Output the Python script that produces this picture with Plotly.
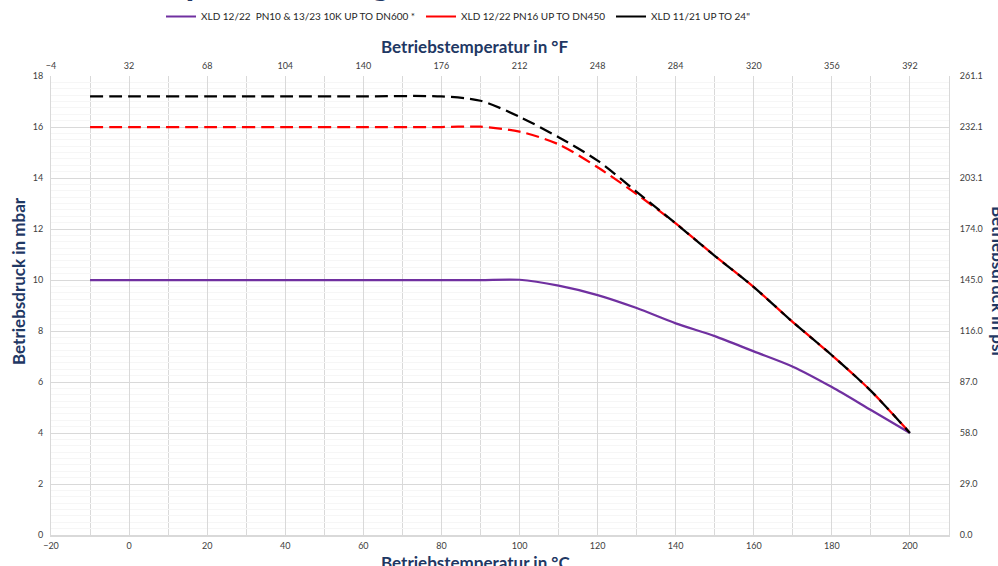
import plotly.graph_objects as go

# ---- data ----
temp_c_purple = [-10, 0, 20, 40, 60, 80, 90, 100, 110, 120, 130, 140, 150, 160, 170, 180, 190, 200]
bar_purple = [10.0, 10.0, 10.0, 10.0, 10.0, 10.0, 10.0, 10.01, 9.78, 9.41, 8.9, 8.3, 7.8, 7.2, 6.6, 5.8, 4.9, 4.0]

temp_c_red = [-10, 0, 20, 40, 60, 80, 90, 100, 110, 120, 130, 140, 150, 160, 170, 180, 190, 200]
bar_red = [16.0, 16.0, 16.0, 16.0, 16.0, 16.0, 16.01, 15.82, 15.32, 14.42, 13.37, 12.22, 10.95, 9.72, 8.35, 7.05, 5.65, 4.0]

temp_c_black = [-10, 0, 20, 40, 60, 80, 90, 100, 110, 120, 130, 140, 150, 160, 170, 180, 190, 200]
bar_black = [17.2, 17.2, 17.2, 17.2, 17.2, 17.2, 17.03, 16.4, 15.6, 14.68, 13.46, 12.22, 10.95, 9.72, 8.35, 7.05, 5.65, 4.0]

names = [
    "XLD 12/22\u00a0 PN10 & 13/23 10K UP TO DN600 *",
    "XLD 12/22 PN16 UP TO DN450",
    'XLD 11/21 UP TO 24"',
]
colors = ["#7030A0", "#FF0000", "#000000"]

x_ticks_c = [-20, 0, 20, 40, 60, 80, 100, 120, 140, 160, 180, 200]
x_ticks_f = [-4, 32, 68, 104, 140, 176, 212, 248, 284, 320, 356, 392]
y_ticks_bar = [0, 2, 4, 6, 8, 10, 12, 14, 16, 18]
BAR_TO_PSI = 14.5038

title_text = "Druck-Temperatur-Diagramm"
x_title_c = "Betriebstemperatur in °C"
x_title_f = "Betriebstemperatur in °F"
y_title_bar = "Betriebsdruck in mbar"
y_title_psi = "Betriebsdruck in psi"

# ---- figure ----
W, H = 998, 566
ML, MR, MT, MB = 51, 49, 76, 31
PW, PH = W - ML - MR, H - MT - MB


def px_x(px):
    return (px - ML) / PW


def px_y(py):
    return (H - MB - py) / PH


fig = go.Figure()

line_w = 2.25
fig.add_trace(go.Scatter(x=temp_c_purple, y=bar_purple, mode="lines",
                         line=dict(color=colors[0], width=line_w, shape="spline", smoothing=0.8),
                         showlegend=False, hoverinfo="skip"))
fig.add_trace(go.Scatter(x=temp_c_red, y=bar_red, mode="lines",
                         line=dict(color=colors[1], width=line_w, dash="13px,6px", shape="spline", smoothing=0.8),
                         showlegend=False, hoverinfo="skip"))
fig.add_trace(go.Scatter(x=temp_c_black, y=bar_black, mode="lines",
                         line=dict(color=colors[2], width=line_w, dash="13px,6px", shape="spline", smoothing=0.8),
                         showlegend=False, hoverinfo="skip"))

# legend entries (solid symbols like the reference)
legend_widths = [215, 145, 150]
for nm, col, lw in zip(names, colors, legend_widths):
    fig.add_trace(go.Scatter(x=[None], y=[None], mode="lines", name=nm,
                             line=dict(color=col, width=2), legendwidth=lw))

grid = "#D9D9D9"
tick_font = dict(family="Lato, Open Sans, sans-serif", size=9, color="#404040")
title_font = dict(family="Lato, Open Sans, sans-serif", size=17, color="#1F3864")

fig.update_layout(
    template="none",
    width=W, height=H,
    margin=dict(l=ML, r=MR, t=MT, b=MB, pad=0, autoexpand=False),
    paper_bgcolor="white", plot_bgcolor="white",
    showlegend=True,
    legend=dict(orientation="h", xref="container", yref="container",
                x=161 / W, xanchor="left", y=1 - 2 / H, yanchor="top",
                font=dict(family="Lato, Open Sans, sans-serif", size=10, color="#262626"),
                itemwidth=30, bgcolor="rgba(0,0,0,0)", borderwidth=0, traceorder="normal"),
    xaxis=dict(range=[-20, 210], tickvals=x_ticks_c, showgrid=True, gridcolor=grid, gridwidth=1,
               minor=dict(dtick=10, tick0=0, showgrid=True, gridcolor=grid, gridwidth=1),
               zeroline=False, showline=True, linecolor=grid, linewidth=1.5, mirror=False,
               ticks="", tickfont=tick_font, ticklabelstandoff=1, automargin=False),
    xaxis2=dict(range=[-4, 410], overlaying="x", side="top", tickvals=x_ticks_f,
                showgrid=False, zeroline=False, showline=False, ticks="", tickfont=tick_font,
                ticklabelstandoff=4, automargin=False),
    yaxis=dict(range=[0, 18], tickvals=y_ticks_bar, showgrid=True, gridcolor=grid, gridwidth=1,
               minor=dict(dtick=0.25, tick0=0, showgrid=True, gridcolor="#F6F6F6", gridwidth=1),
               zeroline=False, showline=True, linecolor=grid, linewidth=1,
               ticks="", tickfont=tick_font, ticklabelstandoff=5, automargin=False),
    yaxis2=dict(range=[0, 18 * BAR_TO_PSI], overlaying="y", side="right",
                tickvals=[v * BAR_TO_PSI for v in y_ticks_bar], tickformat=".1f",
                showgrid=False, zeroline=False, showline=True, linecolor=grid, linewidth=1,
                ticks="", tickfont=tick_font, ticklabelstandoff=8, automargin=False),
)

# dummy trace so that secondary axes are anchored
fig.add_trace(go.Scatter(x=[None], y=[None], xaxis="x2", yaxis="y2", showlegend=False, hoverinfo="skip"))

ann = []
ann.append(dict(text=f"<b>{title_text}</b>", x=px_x(9), y=px_y(5), xref="paper", yref="paper",
                xanchor="left", yanchor="bottom", showarrow=False,
                font=dict(family="Lato, Open Sans, sans-serif", size=36, color="#1F3864")))
ann.append(dict(text=f"<b>{x_title_f}</b>", x=px_x(474.5), y=px_y(47), xref="paper", yref="paper",
                xanchor="center", yanchor="middle", showarrow=False, font=title_font))
ann.append(dict(text=f"<b>{x_title_c}</b>", x=px_x(475), y=px_y(550), xref="paper", yref="paper",
                xanchor="center", yanchor="top", showarrow=False, font=title_font))
ann.append(dict(text=f"<b>{y_title_bar}</b>", x=px_x(18), y=px_y(281), xref="paper", yref="paper",
                xanchor="center", yanchor="middle", textangle=-90, showarrow=False, font=title_font))
ann.append(dict(text=f"<b>{y_title_psi}</b>", x=px_x(999), y=px_y(281), xref="paper", yref="paper",
                xanchor="center", yanchor="middle", textangle=90, showarrow=False, font=title_font))
fig.update_layout(annotations=ann)

fig.write_html("out.html", config={"displayModeBar": False},
               post_script="document.body.style.margin='0';document.body.style.overflow='hidden';")
